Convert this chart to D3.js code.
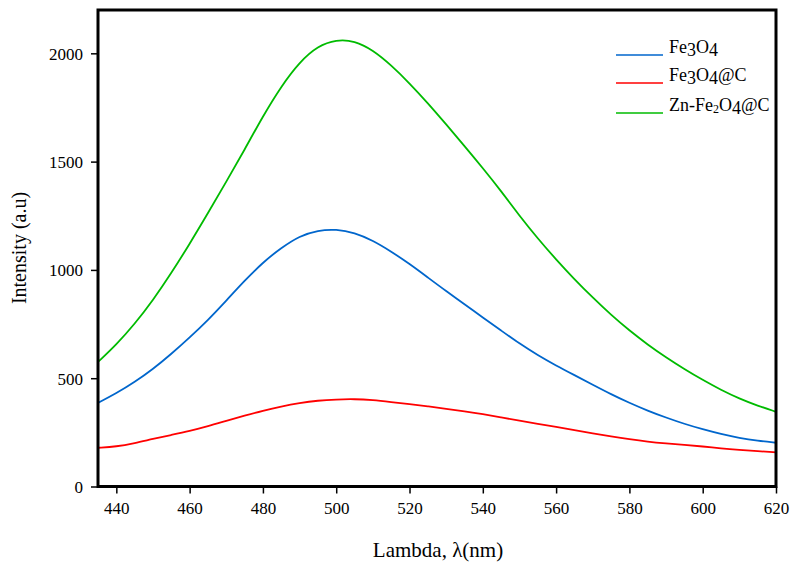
<!DOCTYPE html>
<html>
<head>
<meta charset="utf-8">
<script src="https://cdn.jsdelivr.net/npm/d3@7"></script>
<style>
  html, body { margin: 0; padding: 0; background: #fff; }
  text { font-family: "Liberation Serif", "Times New Roman", serif; fill: #000; }
</style>
</head>
<body>
<svg id="chart" width="791" height="566"></svg>
<script>
const wavelengths = d3.range(435, 621, 5);
const fe3o4 = [386, 430, 482, 542, 612, 688, 768, 858, 950, 1035, 1102, 1157, 1183, 1188, 1172, 1136, 1085, 1028, 965, 902, 842, 780, 720, 660, 606, 558, 514, 470, 426, 386, 350, 318, 289, 264, 242, 224, 211, 202];
const fe3o4C = [179, 184, 200, 220, 238, 256, 278, 303, 327, 350, 370, 386, 397, 402, 404, 399, 390, 381, 370, 359, 347, 334, 319, 304, 289, 275, 260, 245, 231, 218, 207, 199, 192, 185, 176, 169, 163, 158];
const znFe2o4C = [575, 655, 750, 860, 985, 1120, 1262, 1407, 1555, 1710, 1848, 1960, 2034, 2063, 2058, 2015, 1945, 1862, 1770, 1672, 1572, 1470, 1364, 1250, 1145, 1048, 957, 872, 792, 720, 655, 596, 542, 492, 446, 406, 373, 345];
const xTicks = [440, 460, 480, 500, 520, 540, 560, 580, 600, 620];
const yTicks = [0, 500, 1000, 1500, 2000];
const seriesNames = ["Fe3O4", "Fe3O4@C", "Zn-Fe2O4@C"];
const seriesColors = ["#0066cc", "#ff0000", "#00bb00"];
const seriesValues = [fe3o4, fe3o4C, znFe2o4C];

const svg = d3.select("#chart");
const L = 98, T = 10, R = 776, B = 486.5;
const x = d3.scaleLinear().domain([435, 620]).range([L, R]);
const y = d3.scaleLinear().domain([0, 2200]).range([B, T]);

const line = d3.line().x((d, i) => x(wavelengths[i])).y(d => y(d)).curve(d3.curveBasis);

const g = svg.append("g");
seriesValues.forEach((vals, k) => {
  g.append("path").datum(vals)
    .attr("fill", "none")
    .attr("stroke", seriesColors[k])
    .attr("stroke-width", 1.8)
    .attr("d", line);
});

// axes
const xAxis = svg.append("g").attr("transform", `translate(0,${B})`)
  .call(d3.axisBottom(x).tickValues(xTicks).tickFormat(d3.format("d")).tickSize(7).tickPadding(8).tickSizeOuter(0));
const yAxis = svg.append("g").attr("transform", `translate(${L},0)`)
  .call(d3.axisLeft(y).tickValues(yTicks).tickFormat(d3.format("d")).tickSize(7).tickPadding(8).tickSizeOuter(0));
[xAxis, yAxis].forEach(a => {
  a.select(".domain").remove();
  a.selectAll(".tick line").attr("stroke", "#000").attr("stroke-width", 1.5);
  a.selectAll(".tick text").style("font-family", "'Liberation Serif', serif").style("font-size", "17px").attr("fill", "#000");
});
yAxis.selectAll(".tick text").attr("dy", "0.35em");

// frame
svg.append("rect").attr("x", L).attr("y", T).attr("width", R - L).attr("height", B - T)
  .attr("fill", "none").attr("stroke", "#000").attr("stroke-width", 3);

// axis titles
svg.append("text").attr("x", 438).attr("y", 557).attr("text-anchor", "middle")
  .style("font-size", "21px").text("Lambda, λ(nm)");
svg.append("text").attr("transform", "translate(26,248) rotate(-90)").attr("text-anchor", "middle")
  .style("font-size", "20px").text("Intensity (a.u)");

// legend
const legY = [55, 83, 113];
seriesNames.forEach((name, k) => {
  svg.append("line").attr("x1", 616).attr("x2", 663).attr("y1", legY[k]).attr("y2", legY[k])
    .attr("stroke", seriesColors[k]).attr("stroke-width", 1.5);
  const t = svg.append("text").attr("x", 669).attr("y", legY[k] - 2).style("font-size", "18px");
  const parts = name.match(/[A-Za-z@\-]+|\d/g);
  let shift = 0;
  parts.forEach(p => {
    if (/\d/.test(p)) {
      const small = (p === "2");
      const target = small ? 2 : 3;
      t.append("tspan").attr("dy", target - shift).style("font-size", small ? "12px" : "18px").text(p);
      shift = target;
    } else {
      t.append("tspan").attr("dy", -shift).text(p);
      shift = 0;
    }
  });
});
</script>
</body>
</html>
